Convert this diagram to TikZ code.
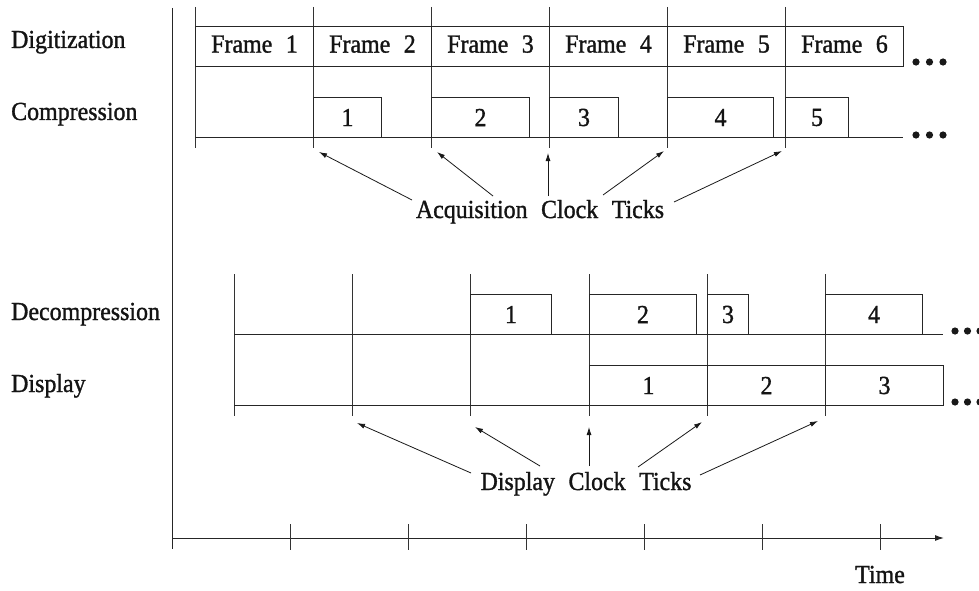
\documentclass[tikz,border=0pt]{standalone}
\usepackage{fontspec}
\setmainfont{Liberation Serif}
\newfontfamily\chartface[FakeStretch=0.92,FakeBold=1.2]{Liberation Serif}
\usetikzlibrary{arrows.meta}
\newcommand\chartfont{\chartface\fontsize{26}{30}\selectfont\spaceskip=0.52em\relax}
\begin{document}
\begin{tikzpicture}[x=1pt,y=-1pt,
  txt/.style={font=\chartfont, inner sep=0pt, text=black!92},
  rule/.style={line width=1pt, draw=black!85},
  slot/.style={txt, rule, anchor=north west, minimum height=40pt},
  frameslot/.style={slot, minimum width=118pt, text depth=5pt},
  tick/.style={line width=0.9pt, draw=black!80},
  ptr/.style={line width=0.8pt, draw=black!90, -{Latex[length=8pt,width=5pt]}},
  rowlabel/.style={txt, anchor=base west},
  dotfill/.style={fill=black!90},
]
\useasboundingbox (0,0) rectangle (979,591);

% ---- main axes ----
\coordinate (vtop) at (172,8);
\coordinate (vbot) at (172,549);
\coordinate (tstart) at (172,538);
\coordinate (tend) at (944,538);
\draw[rule] (vtop) -- (vbot);
\draw[rule, -{Latex[length=9pt,width=6pt]}] (tstart) -- (tend);
\foreach \x in {290,408,526,644,762,880}
  \draw[tick] (\x,524) -- (\x,550);
\node[txt, anchor=base] (time) at (880,583) {Time};

% ---- row labels ----
\node[rowlabel] (ldig) at (11,48) {Digitization};
\node[rowlabel] (lcomp) at (11,120) {Compression};
\node[rowlabel] (ldec) at (11,320) {Decompression};
\node[rowlabel] (ldisp) at (11,392) {Display};

% ---- acquisition clock ticks ----
\foreach \x in {195,313,431,549,667,785}
  \draw[tick] (\x,7) -- (\x,148);

% digitization frames
\node[frameslot] (f1) at (195,26) {Frame 1};
\node[frameslot] (f2) at (313,26) {Frame 2};
\node[frameslot] (f3) at (431,26) {Frame 3};
\node[frameslot] (f4) at (549,26) {Frame 4};
\node[frameslot] (f5) at (667,26) {Frame 5};
\node[frameslot] (f6) at (785,26) {Frame 6};

% compression jobs
\coordinate (cbase0) at (195,137);
\coordinate (cbase1) at (903,137);
\draw[rule] (cbase0) -- (cbase1);
\node[slot, minimum width=68pt] (c1) at (313,97) {1};
\node[slot, minimum width=98pt] (c2) at (431,97) {2};
\node[slot, minimum width=69pt] (c3) at (549,97) {3};
\node[slot, minimum width=106pt] (c4) at (667,97) {4};
\node[slot, minimum width=63pt] (c5) at (785,97) {5};

\foreach \x in {0,13.5,27}{
  \fill[dotfill] (916+\x,62) circle (3.6pt);
  \fill[dotfill] (916+\x,135) circle (3.6pt);
}

\node[txt, anchor=base] (acq) at (540,218) {Acquisition Clock Ticks};
\coordinate (aS1) at (412,200); \coordinate (aT1) at (319,152);
\coordinate (aS2) at (493,196); \coordinate (aT2) at (437,152);
\coordinate (aS3) at (548,196); \coordinate (aT3) at (548,153);
\coordinate (aS4) at (603,195); \coordinate (aT4) at (664,151);
\coordinate (aS5) at (674,202); \coordinate (aT5) at (782,151);
\foreach \i in {1,...,5}
  \draw[ptr] (aS\i) -- (aT\i);

% ---- display clock ticks ----
\foreach \x in {234,352,470,589,707,825}
  \draw[tick] (\x,274) -- (\x,416);

% decompression jobs
\coordinate (dbase0) at (234,334);
\coordinate (dbase1) at (943,334);
\draw[rule] (dbase0) -- (dbase1);
\node[slot, minimum width=81pt] (d1) at (470,294) {1};
\node[slot, minimum width=107pt] (d2) at (589,294) {2};
\node[slot, minimum width=41pt] (d3) at (707,294) {3};
\node[slot, minimum width=97pt] (d4) at (825,294) {4};

% displayed frames
\coordinate (pbase0) at (234,405);
\coordinate (pbase1) at (943,405);
\draw[rule] (pbase0) -- (pbase1);
\node[slot, minimum width=118pt] (p1) at (589,365) {1};
\node[slot, minimum width=118pt] (p2) at (707,365) {2};
\node[slot, minimum width=118pt] (p3) at (825,365) {3};

\foreach \x in {0,12.5,25}{
  \fill[dotfill] (955+\x,331) circle (3.6pt);
  \fill[dotfill] (955+\x,402) circle (3.6pt);
}

\node[txt, anchor=base] (disp) at (586,490) {Display Clock Ticks};
\coordinate (dS1) at (471,473); \coordinate (dT1) at (357,423);
\coordinate (dS2) at (540,466); \coordinate (dT2) at (475,427);
\coordinate (dS3) at (589,466); \coordinate (dT3) at (589,427);
\coordinate (dS4) at (638,467); \coordinate (dT4) at (702,422);
\coordinate (dS5) at (700,475); \coordinate (dT5) at (818,421);
\foreach \i in {1,...,5}
  \draw[ptr] (dS\i) -- (dT\i);
\end{tikzpicture}
\end{document}
